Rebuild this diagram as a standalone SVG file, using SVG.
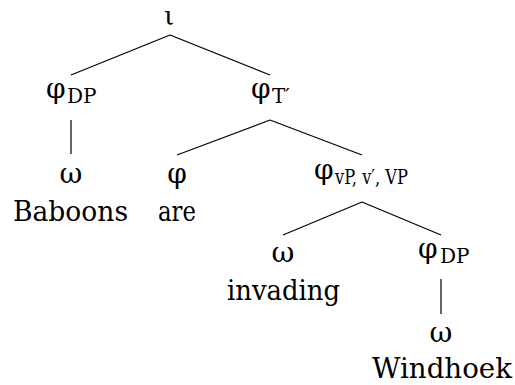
<svg xmlns="http://www.w3.org/2000/svg" width="515" height="385" viewBox="0 0 515 385">
<style>
text{font-family:'DejaVu Serif','Liberation Serif',serif;fill:#000;font-size:28px}
.m{text-anchor:middle}
.s{font-size:20px}
line{stroke:#000;stroke-width:1.2}
</style>
<rect width="515" height="385" fill="#fff"/>
<g id="connectors">
<line x1="170" y1="35" x2="71" y2="75"/>
<line x1="170" y1="35" x2="270" y2="75"/>
<line x1="71" y1="120" x2="71" y2="154"/>
<line x1="270" y1="120" x2="177" y2="155"/>
<line x1="270" y1="120" x2="362" y2="155"/>
<line x1="362" y1="202" x2="283" y2="235"/>
<line x1="362" y1="202" x2="441" y2="235"/>
<line x1="441" y1="279" x2="441" y2="314"/>
</g>
<g id="n-iota"><text class="m" x="169" y="24.5" style="font-size:26px">ι</text></g>
<g id="n-phiDP1"><text x="46" y="98">φ</text><text class="s" x="67" y="103">DP</text></g>
<g id="n-phiT"><text x="251" y="98">φ</text><text class="s" x="272" y="103">T′</text></g>
<g id="n-omega1"><text class="m" x="71" y="183">ω</text><text class="m" x="70.5" y="221" textLength="115" lengthAdjust="spacingAndGlyphs">Baboons</text></g>
<g id="n-phi-are"><text class="m" x="177" y="183">φ</text><text class="m" x="177" y="221" textLength="38" lengthAdjust="spacingAndGlyphs">are</text></g>
<g id="n-phivP"><text x="314" y="179">φ</text><text class="s" x="335" y="184" textLength="73" lengthAdjust="spacingAndGlyphs">vP, v′, VP</text></g>
<g id="n-omega2"><text class="m" x="283" y="262">ω</text><text class="m" x="283.5" y="300" textLength="113" lengthAdjust="spacingAndGlyphs">invading</text></g>
<g id="n-phiDP2"><text x="418" y="258">φ</text><text class="s" x="440" y="263">DP</text></g>
<g id="n-omega3"><text class="m" x="441" y="342">ω</text><text class="m" x="442" y="378" textLength="140" lengthAdjust="spacingAndGlyphs">Windhoek</text></g>
</svg>
